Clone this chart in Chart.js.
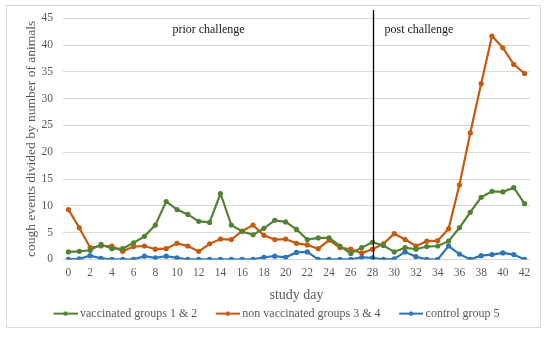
<!DOCTYPE html>
<html>
<head>
<meta charset="utf-8">
<script src="https://cdn.jsdelivr.net/npm/chart.js@4"></script>
<style>
  body { margin: 0; background: #fff; }
  #frame {
    position: absolute; left: 6px; top: 5px;
    width: 533px; height: 321px;
    border: 1px solid #d9d9d9;
  }
</style>
</head>
<body>
<div id="frame"><canvas id="chart" width="533" height="321"></canvas></div>
<script>
// study days (x categories)
const days = [0,1,2,3,4,5,6,7,8,9,10,11,12,13,14,15,16,17,18,19,20,21,22,23,24,25,26,27,28,29,30,31,32,33,34,35,36,37,38,39,40,41,42];

// cough events / number of animals
const vaccinated = [1.4,1.5,1.7,2.8,2.0,2.0,3.1,4.3,6.4,10.8,9.3,8.4,7.1,6.9,12.3,6.4,5.2,4.6,5.8,7.3,7.0,5.6,3.7,4.0,4.0,2.5,1.1,2.2,3.2,2.6,1.4,2.2,1.9,2.4,2.5,3.4,5.9,8.8,11.6,12.7,12.6,13.4,10.4];
const nonVaccinated = [9.3,5.9,2.2,2.5,2.5,1.5,2.4,2.5,1.9,2.0,3.0,2.5,1.5,2.9,3.8,3.7,5.3,6.4,4.5,3.7,3.8,3.0,2.7,2.0,3.6,2.2,1.9,1.2,1.9,2.9,4.8,3.7,2.5,3.4,3.5,5.7,13.9,23.6,32.8,41.7,39.5,36.4,34.7];
const control = [0,0.1,0.7,0.2,0,0,0,0.6,0.3,0.6,0.3,0,0,0,0,0,0,0,0.4,0.6,0.4,1.3,1.4,0,0,0,0,0.4,0.3,0,0.1,1.4,0.5,0,0,2.5,1.0,0,0.7,0.9,1.2,0.9,0];

const seriesNames = ['vaccinated groups 1 & 2', 'non vaccinated groups 3 & 4', 'control group 5'];
const seriesColors = ['#548235', '#c55a11', '#2e75b6'];

const challengeDay = 28;
const phaseLabels = [
  { text: 'prior challenge', day: 12.9, y: 42.8, align: 'center' },
  { text: 'post challenge', day: 29.1, y: 42.8, align: 'left' }
];

const serif = "'Liberation Serif', 'Times New Roman', serif";

// legend mark: short line with a dot; box is narrower than the image so the
// line sits close to its text, blank space on the left makes the item gap
const markBox = 39, markImg = 46, markLen = 24;
function legendMark(color) {
  const c = document.createElement('canvas');
  c.width = markImg; c.height = 8;
  const g = c.getContext('2d');
  g.strokeStyle = color;
  g.lineWidth = 2;
  g.beginPath(); g.moveTo(markImg - markLen, 4); g.lineTo(markImg, 4); g.stroke();
  g.fillStyle = color;
  g.beginPath(); g.arc(markImg - markLen / 2, 4, 2.3, 0, Math.PI * 2); g.fill();
  return c;
}

function makeSet(i, data) {
  return {
    label: seriesNames[i],
    data: data,
    borderColor: seriesColors[i],
    backgroundColor: seriesColors[i],
    borderWidth: 2.2,
    pointRadius: 2.6,
    pointBorderWidth: 0,
    pointStyle: 'circle',
    tension: 0
  };
}

// challenge line + phase text
const challengePlugin = {
  id: 'challenge',
  beforeDraw(chart) {
    // legend row sits a bit left of centre in the original
    const lg = chart.legend;
    if (!lg._shifted) { lg.left -= 9.5; lg.right -= 9.5; lg._shifted = true; }
  },
  afterDatasetsDraw(chart) {
    const ctx = chart.ctx;
    const xs = chart.scales.x, ys = chart.scales.y;
    const x = Math.round(xs.getPixelForValue(challengeDay)) + 0.5;
    ctx.save();
    ctx.strokeStyle = '#000';
    ctx.lineWidth = 1.3;
    ctx.beginPath();
    ctx.moveTo(x, 4);
    ctx.lineTo(x, chart.chartArea.bottom);
    ctx.stroke();
    ctx.fillStyle = '#1a1a1a';
    ctx.font = '12px ' + serif;
    ctx.textBaseline = 'middle';
    phaseLabels.forEach(p => {
      ctx.textAlign = p.align;
      ctx.fillText(p.text, xs.getPixelForValue(p.day), ys.getPixelForValue(p.y));
    });
    ctx.restore();
  }
};

new Chart(document.getElementById('chart'), {
  type: 'line',
  data: {
    labels: days,
    datasets: [makeSet(0, vaccinated), makeSet(1, nonVaccinated), makeSet(2, control)]
  },
  options: {
    responsive: false,
    animation: false,
    layout: { padding: { left: 16.6, right: 10, top: 12.3, bottom: -2.6 } },
    scales: {
      x: {
        offset: true,
        grid: { display: false, drawTicks: false },
        border: { display: false },
        ticks: {
          autoSkip: false,
          maxRotation: 0,
          color: '#595959',
          font: { family: serif, size: 11.5 },
          padding: 7,
          callback: function (v, i) { return i % 2 === 0 ? this.getLabelForValue(v) : ''; }
        },
        title: { display: true, text: 'study day', color: '#595959', font: { family: serif, size: 14 }, padding: { top: 0, bottom: 3.6 } }
      },
      y: {
        min: 0, max: 45,
        border: { display: false },
        grid: { color: '#d9d9d9', lineWidth: 1, drawTicks: false },
        ticks: { stepSize: 5, color: '#595959', font: { family: serif, size: 11.5 }, padding: 10 },
        title: { display: true, text: 'cough events divided by number of animals', color: '#595959', font: { family: serif, size: 13.5 }, padding: { top: 0, bottom: 1 } },
        afterFit(scale) { scale.width = 39.4; scale.paddingTop = 0; }
      }
    },
    plugins: {
      legend: {
        position: 'bottom',
        labels: {
          usePointStyle: true,
          pointStyleWidth: markBox,
          color: '#595959',
          font: { family: serif, size: 12 },
          padding: 0,
          generateLabels(chart) {
            const items = Chart.defaults.plugins.legend.labels.generateLabels(chart);
            items.forEach(it => { it.pointStyle = legendMark(seriesColors[it.datasetIndex]); });
            return items;
          }
        }
      },
      tooltip: { enabled: false }
    }
  },
  plugins: [challengePlugin]
});
</script>
</body>
</html>
